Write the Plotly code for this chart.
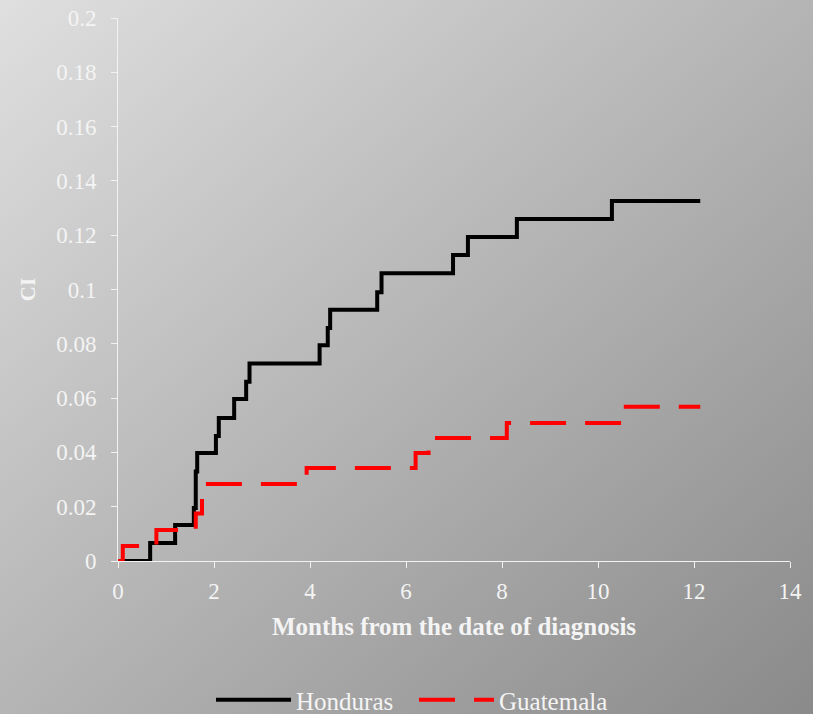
import base64
import plotly.graph_objects as go

# Honduras step data (months, cumulative incidence)
hon_t = [0, 0.67, 1.19, 1.58, 1.62, 1.65, 2.04, 2.10, 2.42, 2.67, 2.74, 4.20, 4.37, 4.42, 5.40, 5.49, 6.98, 7.29, 8.31, 10.29, 12.13]
hon_v = [0, 0.0066, 0.0133, 0.0195, 0.033, 0.0398, 0.046, 0.0527, 0.0597, 0.066, 0.0727, 0.0795, 0.0858, 0.0925, 0.099, 0.106, 0.1127, 0.1193, 0.126, 0.1326, 0.1326]

# Guatemala step data
gua_t = [0, 0.10, 0.80, 1.62, 1.75, 3.93, 6.20, 6.47, 8.10, 10.50, 12.13]
gua_v = [0, 0.0055, 0.0114, 0.0175, 0.0284, 0.0343, 0.0398, 0.0453, 0.0508, 0.0568, 0.0568]

FONT = "Liberation Serif"
TXT = "#f4f4f4"

W, H = 813, 714
L, R, T, B = 118, 23, 18, 153
pw, ph = W - L - R, H - T - B

svg = ('<svg xmlns="http://www.w3.org/2000/svg" width="813" height="714" viewBox="0 0 813 714" preserveAspectRatio="none">'
       '<defs><linearGradient id="g" x1="0" y1="0" x2="1" y2="1">'
       '<stop offset="0" stop-color="#dfdfdf"/><stop offset="1" stop-color="#8a8a8a"/>'
       '</linearGradient></defs><rect width="813" height="714" fill="url(#g)"/></svg>')
src = "data:image/svg+xml;base64," + base64.b64encode(svg.encode()).decode()

fig = go.Figure()
fig.add_trace(go.Scatter(x=hon_t, y=hon_v, mode="lines", name="Honduras",
                         line=dict(color="black", width=4, shape="hv")))
fig.add_trace(go.Scatter(x=gua_t, y=gua_v, mode="lines", name="Guatemala",
                         line=dict(color="#ff0000", width=4, shape="hv", dash="36px,19px")))

fig.update_layout(
    width=W, height=H,
    margin=dict(l=L, r=R, t=T, b=B, autoexpand=False),
    paper_bgcolor="#b5b5b5",
    plot_bgcolor="white",
    font=dict(family=FONT, color=TXT, size=20),
    images=[dict(source=src, xref="paper", yref="paper",
                 x=-L / pw, y=1 + T / ph, sizex=W / pw, sizey=H / ph,
                 xanchor="left", yanchor="top", sizing="stretch", layer="below")],
    legend=dict(orientation="h", x=(211 - L) / pw, xanchor="left",
                y=(T + ph - 700) / ph, yanchor="middle",
                font=dict(family=FONT, size=25, color=TXT), bgcolor="rgba(0,0,0,0)",
                itemwidth=75, entrywidth=113, entrywidthmode="pixels"),
    xaxis=dict(range=[0, 14], dtick=2, tick0=0, showgrid=False, zeroline=False,
               showline=True, linecolor="#f2f2f2", linewidth=1,
               ticks="outside", ticklen=6, tickcolor="#f2f2f2",
               tickfont=dict(family=FONT, size=23, color=TXT), ticklabelstandoff=3,
               title=dict(text="<b>Months from the date of diagnosis</b>",
                          font=dict(family=FONT, size=25, color=TXT), standoff=14)),
    yaxis=dict(range=[0, 0.2], dtick=0.02, tick0=0, showgrid=False, zeroline=False,
               showline=True, linecolor="#f2f2f2", linewidth=1,
               ticks="outside", ticklen=6, tickcolor="#f2f2f2",
               tickfont=dict(family=FONT, size=23, color=TXT), ticklabelstandoff=10,
               title=dict(text="<b>CI</b>", font=dict(family=FONT, size=21, color=TXT), standoff=14)),
)

fig.write_html("out.html")
